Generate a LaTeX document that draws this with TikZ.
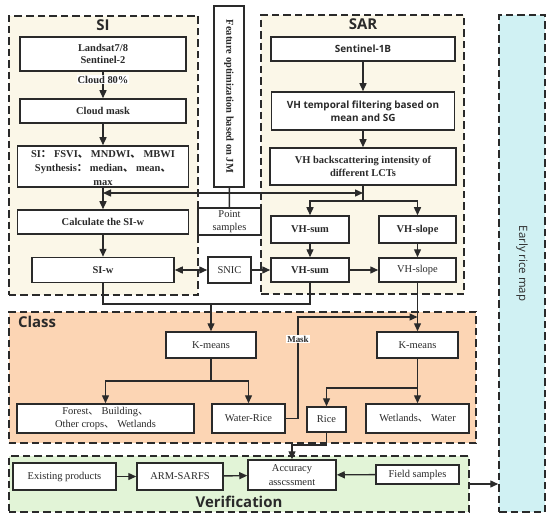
\documentclass[tikz,border=0pt]{standalone}
\usepackage{fontspec}
\setmainfont{Liberation Serif}
\newfontfamily\headfont{Open Sans}
\newfontfamily\cjk{Noto Sans CJK SC}
\usetikzlibrary{arrows.meta}
\definecolor{linegray}{HTML}{2A2A2A}
\definecolor{cream}{HTML}{FBF7E8}
\definecolor{peach}{HTML}{FCD5B4}
\definecolor{palegreen}{HTML}{E2F4D7}
\definecolor{palecyan}{HTML}{D0F1F3}
\tikzset{
  box/.style={draw=linegray,line width=1.5bp,fill=white,inner sep=1bp,align=center,
    font=\fontsize{10.5}{13.5}\selectfont},
  boldbox/.style={box,font=\fontsize{10.5}{12.5}\selectfont\bfseries},
  sansbox/.style={box,font=\headfont\bfseries\fontsize{10}{13}\selectfont},
  region/.style={draw=linegray,line width=1.5bp,dash pattern=on 7.5bp off 4bp,inner sep=0pt},
  heading/.style={font=\headfont\bfseries\fontsize{15}{15}\selectfont},
}
\begin{document}
\begin{tikzpicture}[x=1bp,y=-1bp,>={Triangle[length=8bp,width=7bp]},line width=1.4bp,color=linegray]
  \useasboundingbox (0,0) rectangle (550,521);
  %% Dashed frames
  \node[region,fill=cream,minimum width=189bp,minimum height=279bp] (30) at (103.5,155.5) {};
  \node[region,fill=cream,minimum width=203bp,minimum height=279bp] (31) at (362.5,154.5) {};
  \node[region,fill=peach,minimum width=467bp,minimum height=131bp] (32) at (242.5,377.5) {};
  \node[region,fill=palegreen,minimum width=460bp,minimum height=56bp] (33) at (239,484) {};
  \node[region,fill=palecyan,minimum width=46bp,minimum height=497bp] (34) at (522,263.5) {};
  \node[heading] (35) at (103,25) {SI};
  \node[heading] (36) at (363,24) {SAR};
  \node[heading] (37) at (37,322) {Class};
  \node[heading] (38) at (239,502) {Verification};
  \node[rotate=-90,font=\headfont\fontsize{11.5}{12}\selectfont] (39) at (34) {Early rice map};
  %% SI column
  \node[boldbox,minimum width=166bp,minimum height=34bp] (1) at (103,54) {Landsat7/8\\Sentinel-2};
  \node[boldbox,minimum width=166bp,minimum height=24bp] (2) at (103,111) {Cloud mask};
  \node[box,minimum width=171bp,minimum height=41bp] (3) at (103,166.5) {};
  \node[font=\fontsize{10.5}{14.5}\selectfont\bfseries,align=center] (3t) at (103,168)
    {SI{\cjk ：} FSVI{\cjk 、} MNDWI{\cjk 、} MBWI\\Synthesis{\cjk ：} median{\cjk 、} mean{\cjk 、}\\max};
  \node[boldbox,minimum width=171bp,minimum height=24bp] (4) at (103,222) {Calculate the SI-w};
  \node[boldbox,minimum width=142bp,minimum height=25bp] (5) at (103,270) {SI-w};
  %% middle column
  \node[box,minimum width=30bp,minimum height=181bp] (6) at (229,96.5) {};
  \node[rotate=-90,font=\fontsize{10.5}{12}\selectfont\bfseries] (6t) at (6) {Feature optimization based on JM};
  \node[box,minimum width=63bp,minimum height=27bp] (7) at (229.5,221.5) {Point\\samples};
  \node[box,minimum width=43bp,minimum height=26bp] (8) at (229.5,270) {SNIC};
  %% SAR column
  \node[sansbox,minimum width=184bp,minimum height=24bp] (9) at (363,49) {Sentinel-1B};
  \node[sansbox,minimum width=183bp,minimum height=38bp] (10) at (363,111) {VH temporal filtering based on\\mean and SG};
  \node[boldbox,minimum width=186bp,minimum height=37bp] (11) at (363,166.5) {VH backscattering intensity of\\different LCTs};
  \node[boldbox,minimum width=78bp,minimum height=27bp] (12) at (310,229.5) {VH-sum};
  \node[boldbox,minimum width=77bp,minimum height=27bp] (13) at (417.5,229.5) {VH-slope};
  \node[boldbox,minimum width=78bp,minimum height=24bp] (14) at (310,270) {VH-sum};
  \node[box,minimum width=77bp,minimum height=24bp] (15) at (417.5,270) {VH-slope};
  %% Class
  \node[box,minimum width=90bp,minimum height=26bp] (16) at (211,345) {K-means};
  \node[box,minimum width=81bp,minimum height=26bp] (17) at (417.5,345) {K-means};
  \node[box,minimum width=177bp,minimum height=29bp] (18) at (105.5,418.5) {Forest{\cjk 、} Building{\cjk 、}\\Other crops{\cjk 、} Wetlands};
  \node[box,minimum width=73bp,minimum height=29bp] (19) at (248.5,418.5) {Water-Rice};
  \node[box,minimum width=39bp,minimum height=25bp] (20) at (326.5,419.5) {Rice};
  \node[box,minimum width=103bp,minimum height=29bp] (21) at (417.5,418.5) {Wetlands{\cjk 、} Water};
  %% Verification
  \node[box,minimum width=103bp,minimum height=27bp] (22) at (64.5,476.5) {Existing products};
  \node[box,minimum width=86bp,minimum height=27bp] (23) at (180,476.5) {ARM-SARFS};
  \node[box,minimum width=88bp,minimum height=30bp] (24) at (292,475) {Accuracy\\asscssment};
  \node[box,minimum width=83bp,minimum height=19bp] (25) at (417.5,474.5) {Field samples};
  %% SI arrows
  \draw[->] (1) -- node[pos=0.3,fill=white,inner sep=1bp,font=\fontsize{10.5}{12}\selectfont\bfseries] (1t) {Cloud 80\%} (2);
  \draw[->] (2) -- (3);
  \draw[->] (3) -- (4);
  \draw[->] (4) -- (5);
  %% feature optimization
  \coordinate (j1) at (229,193);
  \coordinate (j2) at (103,193);
  \coordinate (j3) at (363,193);
  \draw (6) -- (7);
  \draw[->] (j1) -- (j2);
  \draw[->] (j1) -- (j3);
  %% SAR arrows
  \draw[->] (9) -- (10);
  \draw[->] (10) -- (11);
  \coordinate (j4) at (363,201);
  \draw (11) -- (j4);
  \draw[->] (j4) -| (12);
  \draw[->] (j4) -| (13);
  \draw[->] (12) -- (14);
  \draw[->] (13) -- (15);
  \draw[<->] (5) -- (8);
  \draw[->] (8) -- (14);
  \draw[->] (14) -- (15);
  %% down to the classes
  \coordinate (j5) at (211,304);
  \draw (5) |- (j5) -| (14);
  \draw[->] (j5) -- (16);
  \draw[->] (15) -- (17);
  \coordinate (j6) at (211,381);
  \draw (16) -- (j6);
  \draw[->] (j6) -| (18);
  \draw[->] (j6) -| (19);
  \coordinate (j7) at (417.5,388);
  \draw[->] (17) -- (21);
  \draw[->] (j7) -| (20);
  %% mask
  \coordinate (j8) at (298,317);
  \coordinate (j9) at (417.5,317);
  \draw[->] (19) -| node[pos=0.89,fill=white,inner sep=1bp,font=\fontsize{9}{10}\selectfont\bfseries] (19t) {Mask} (j8) -- (j9);
  %% verification
  \coordinate (j10) at (292,445);
  \draw[->] (20) |- (j10) -- (24);
  \draw[->] (22) -- (23);
  \draw[->] (23) -- (24);
  \draw[->] (25) -- (24);
  \draw[->] (33) -- (33 -| 34.west);
\end{tikzpicture}
\end{document}
